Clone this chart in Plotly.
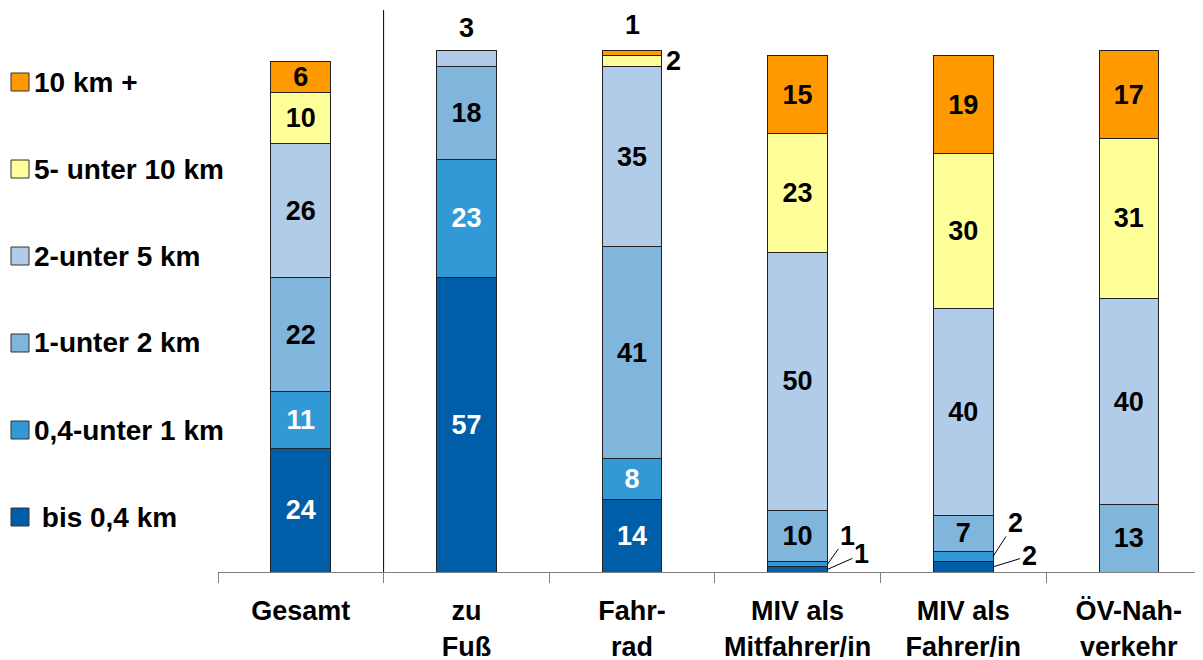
import plotly.graph_objects as go

categories = ["Gesamt", "zu Fuß", "Fahrrad", "MIV als Mitfahrer/in", "MIV als Fahrer/in", "ÖV-Nahverkehr"]
tick_labels = ["Gesamt", "zu<br>Fuß", "Fahr-<br>rad", "MIV als<br>Mitfahrer/in", "MIV als<br>Fahrer/in", "ÖV-Nah-<br>verkehr"]

series_names = ["\u00a0bis 0,4 km", "0,4-unter 1 km", "1-unter 2 km", "2-unter 5 km", "5- unter 10 km", "10 km +"]
bis_04 = [24, 57, 14, 1, 2, None]
von_04_bis_1 = [11, 23, 8, 1, 2, None]
von_1_bis_2 = [22, 18, 41, 10, 7, 13]
von_2_bis_5 = [26, 3, 35, 50, 40, 40]
von_5_bis_10 = [10, None, 2, 23, 30, 31]
ab_10 = [6, None, 1, 15, 19, 17]

series_values = [bis_04, von_04_bis_1, von_1_bis_2, von_2_bis_5, von_5_bis_10, ab_10]
colors = ["#005DA8", "#3399D6", "#80B5DC", "#B0CCE8", "#FFFF99", "#FF9900"]
text_colors = ["white", "white", "black", "black", "black", "black"]

# the page body has an 8px margin, so the figure is a bit smaller and shifted
OFF = 8
W, H = 1203 - OFF, 660 - OFF
L, R, T, B = 218 - OFF, 0, 10 - OFF, 88
FONT = "Liberation Sans"


def px_x(px):
    # screen pixel -> paper coordinate
    return (px - OFF - L) / (W - L - R)


def px_y(py):
    return (H - B - (py - OFF)) / (H - T - B)


fig = go.Figure()
for name, vals, col, tcol in zip(series_names, series_values, colors, text_colors):
    labels = [str(v) if v is not None and v >= 6 else "" for v in vals]
    fig.add_trace(go.Bar(
        x=categories, y=vals, name=name, width=0.36,
        marker=dict(color=col, line=dict(color="#222222", width=1)),
        text=labels, textposition="inside", insidetextanchor="middle",
        textangle=0, constraintext="none",
        insidetextfont=dict(family=FONT, size=27, color=tcol, weight="bold"),
        showlegend=False, hoverinfo="skip",
    ))

totals = [sum(v for v in col if v is not None) for col in zip(*series_values)]

ann = []
# small values above / beside the bars
ann.append(dict(x=categories[1], y=totals[1], text=str(von_2_bis_5[1]), showarrow=False,
                yanchor="bottom", yshift=6))
ann.append(dict(x=categories[2], y=totals[2], text=str(ab_10[2]), showarrow=False,
                yanchor="bottom", yshift=9))
ann.append(dict(x=2.18, y=totals[2] - ab_10[2] - von_5_bis_10[2] / 2, text=str(von_5_bis_10[2]),
                showarrow=False, xanchor="left", xshift=2))
# leader lines for the tiny segments
for i, ax, ay, seg in [(3, 20, -28, 1), (3, 34, -15, 0), (4, 22, -34, 1), (4, 36, -11, 0)]:
    below = sum(series_values[k][i] for k in range(seg))
    v = series_values[seg][i]
    ann.append(dict(x=i + 0.18, y=below + v / 2, text=str(v), showarrow=True, arrowhead=0,
                    arrowwidth=1, arrowcolor="black", ax=ax, ay=ay, standoff=0))
for a in ann:
    a["font"] = dict(family=FONT, size=27, color="black", weight="bold")
    a["xref"] = "x"
    a["yref"] = "y"

# legend, top item = last series
shapes = []
legend_y = [517, 430, 343, 256, 169, 82]
for name, col, ly in zip(series_names, colors, legend_y):
    shapes.append(dict(type="rect", xref="paper", yref="paper",
                       x0=px_x(11), x1=px_x(29), y0=px_y(ly + 9), y1=px_y(ly - 9),
                       fillcolor=col, line=dict(color="#333333", width=1)))
    ann.append(dict(xref="paper", yref="paper", x=px_x(32), y=px_y(ly), text=name,
                    showarrow=False, xanchor="left", yanchor="middle",
                    font=dict(family=FONT, size=28, color="black", weight="bold")))

# separator between Gesamt and the modes
shapes.append(dict(type="line", xref="x", yref="paper", x0=0.5, x1=0.5, y0=0, y1=1,
                   line=dict(color="black", width=1)))

fig.update_layout(
    barmode="stack",
    width=W, height=H,
    margin=dict(l=L, r=R, t=T, b=B),
    plot_bgcolor="white", paper_bgcolor="white",
    annotations=ann, shapes=shapes,
    uniformtext=dict(mode="show", minsize=27),
    font=dict(family=FONT, color="black"),
)
fig.update_xaxes(
    range=[-0.5, 5.448], tickmode="array", tickvals=categories, ticktext=tick_labels,
    tickson="boundaries", ticks="outside", ticklen=10, tickcolor="#808080",
    showline=True, linecolor="#808080", linewidth=1, showgrid=False,
    tickfont=dict(family=FONT, size=27, color="black", weight="bold"),
    ticklabelstandoff=15, automargin=False,
)
fig.update_yaxes(range=[0, 108.9], visible=False, showgrid=False)

fig.write_html("out.html")
